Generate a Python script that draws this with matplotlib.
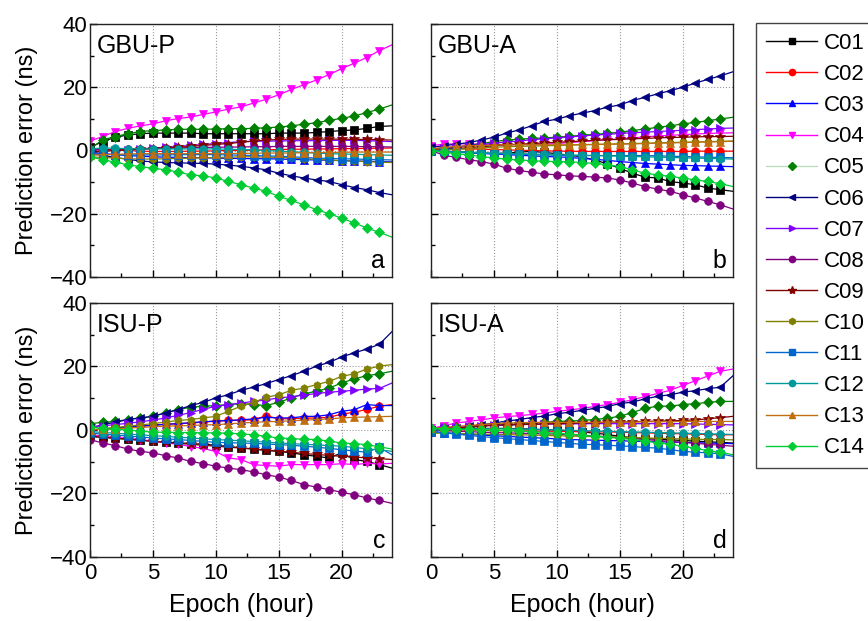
import matplotlib
matplotlib.use("Agg")
import matplotlib.pyplot as plt
from matplotlib.ticker import MultipleLocator
from matplotlib.lines import Line2D

plt.rcParams['font.family'] = ['Liberation Sans', 'DejaVu Sans']

hours = list(range(25))
names = ['C01', 'C02', 'C03', 'C04', 'C05', 'C06', 'C07', 'C08', 'C09', 'C10', 'C11', 'C12', 'C13', 'C14']
colors = ['#000000', '#FF0000', '#0000FF', '#FF00FF', '#008000', '#000080', '#8000FF',
          '#800080', '#800000', '#808000', '#0066CC', '#009999', '#BF6F10', '#00CC33']
legend_line_colors = ['#000000', '#FF0000', '#0000FF', '#FF00FF', '#C0DCC0', '#000080', '#8000FF',
                      '#800080', '#800000', '#808000', '#0066CC', '#009999', '#BF6F10', '#00CC33']
markers = ['s', 'o', '^', 'v', 'D', '<', '>', 'o', '*', 'h', 's', 'o', '^', 'D']
panel_titles = ['GBU-P', 'GBU-A', 'ISU-P', 'ISU-A']
panel_letters = ['a', 'b', 'c', 'd']

gbu_p = {
    'C01': [1.0, 2.8, 4.2, 4.9, 5.3, 5.5, 5.5, 5.5, 5.5, 5.3, 5.3, 5.3, 5.3, 5.3, 5.3, 5.5, 5.5, 5.5, 5.7, 6.0, 6.3, 6.5, 7.0, 7.6, 7.8],
    'C02': [0.5, 0.3, 0.2, 0.0, -0.2, -0.3, -0.3, -0.3, -0.2, -0.2, -0.1, 0.0, 0.0, 0.1, 0.2, 0.3, 0.4, 0.4, 0.5, 0.5, 0.6, 0.6, 0.7, 0.7, 0.8],
    'C03': [-0.5, -1.0, -1.3, -1.6, -1.8, -2.0, -2.1, -2.2, -2.3, -2.3, -2.4, -2.5, -2.5, -2.6, -2.6, -2.7, -2.8, -2.9, -3.0, -3.1, -3.2, -3.3, -3.4, -3.5, -3.6],
    'C04': [3.0, 4.4, 6.0, 7.0, 7.8, 8.4, 9.4, 10.1, 10.6, 11.4, 12.2, 13.1, 13.8, 15.0, 16.2, 17.6, 19.3, 20.8, 22.3, 24.0, 25.9, 27.6, 29.4, 31.6, 33.4],
    'C05': [0.5, 3.4, 4.4, 5.3, 6.0, 6.3, 6.5, 6.7, 6.7, 6.7, 6.8, 6.9, 6.9, 7.0, 7.2, 7.4, 7.8, 8.3, 8.8, 9.5, 10.2, 10.9, 12.0, 13.1, 14.4],
    'C06': [-1.0, -1.5, -2.2, -2.8, -3.3, -3.6, -3.8, -3.9, -4.0, -4.1, -4.3, -4.6, -5.0, -5.5, -6.1, -7.2, -8.0, -8.7, -9.3, -9.8, -10.8, -11.7, -12.4, -13.3, -14.0],
    'C07': [0.5, 0.3, 0.2, 0.3, 0.5, 0.8, 1.0, 1.3, 1.6, 1.9, 2.2, 2.5, 2.8, 2.9, 3.0, 3.0, 3.1, 3.1, 3.1, 3.2, 3.2, 3.2, 3.1, 3.0, 2.8],
    'C08': [0.0, 0.2, 0.3, 0.4, 0.5, 0.6, 0.7, 0.8, 0.9, 1.0, 1.0, 1.1, 1.1, 1.2, 1.2, 1.3, 1.3, 1.3, 1.3, 1.3, 1.3, 1.3, 1.2, 1.2, 1.1],
    'C09': [-0.5, -0.3, 0.0, 0.2, 0.4, 0.6, 0.8, 1.0, 1.3, 1.6, 1.9, 2.2, 2.6, 3.0, 3.3, 3.5, 3.6, 3.6, 3.6, 3.6, 3.6, 3.5, 3.5, 3.4, 3.3],
    'C10': [-2.0, -2.2, -2.4, -2.6, -2.7, -2.7, -2.6, -2.5, -2.4, -2.3, -2.2, -2.1, -2.0, -2.0, -2.1, -2.2, -2.4, -2.6, -2.8, -3.0, -3.2, -3.4, -3.5, -3.7, -3.8],
    'C11': [-1.0, -1.2, -1.3, -1.4, -1.4, -1.4, -1.4, -1.3, -1.3, -1.3, -1.3, -1.4, -1.5, -1.6, -1.7, -1.8, -2.0, -2.2, -2.4, -2.5, -2.6, -2.7, -2.8, -2.9, -3.0],
    'C12': [0.5, 0.8, 0.7, 0.6, 0.5, 0.5, 0.5, 0.5, 0.5, 0.5, 0.5, 0.4, 0.3, 0.2, 0.0, -0.2, -0.4, -0.6, -0.8, -1.0, -1.1, -1.2, -1.3, -1.4, -1.5],
    'C13': [-1.5, -1.3, -1.2, -1.1, -1.0, -1.0, -1.0, -1.0, -1.0, -1.0, -1.0, -1.0, -0.9, -0.9, -0.8, -0.8, -0.8, -0.7, -0.7, -0.6, -0.6, -0.5, -0.5, -0.5, -0.5],
    'C14': [-2.0, -2.9, -3.7, -4.5, -5.1, -5.6, -6.1, -6.8, -7.7, -8.0, -8.7, -9.8, -10.8, -11.9, -12.9, -14.5, -15.8, -17.2, -18.7, -20.0, -21.4, -22.9, -24.5, -25.9, -27.4],
}

gbu_a = {
    'C01': [0.0, -0.2, -0.4, -0.6, -0.8, -1.0, -0.8, -0.5, -0.3, -0.6, -1.0, -1.5, -2.0, -3.0, -4.2, -5.6, -7.2, -8.4, -8.7, -9.8, -10.3, -10.8, -11.9, -12.4, -12.9],
    'C02': [0.5, 0.6, 0.6, 0.5, 0.4, 0.3, 0.2, 0.1, 0.0, -0.1, -0.2, -0.2, -0.3, -0.3, -0.3, -0.3, -0.3, -0.3, -0.3, -0.3, -0.3, -0.2, -0.2, -0.2, -0.2],
    'C03': [0.0, -0.3, -0.5, -0.7, -0.9, -1.1, -1.3, -1.5, -1.7, -1.9, -2.0, -2.2, -2.5, -2.8, -3.1, -3.5, -3.8, -4.1, -4.3, -4.5, -4.7, -4.8, -4.9, -5.0, -5.1],
    'C04': [1.5, 2.0, 2.1, 2.1, 2.0, 1.9, 1.8, 1.8, 1.9, 2.0, 2.2, 2.5, 2.8, 3.1, 3.4, 3.7, 4.0, 4.3, 4.6, 4.8, 5.0, 5.2, 5.4, 5.5, 5.6],
    'C05': [0.0, 0.5, 1.0, 1.6, 2.2, 2.8, 3.3, 3.6, 3.8, 4.0, 4.2, 4.5, 4.8, 5.1, 5.4, 5.8, 6.3, 6.8, 7.3, 7.8, 8.4, 8.9, 9.4, 10.0, 10.5],
    'C06': [1.0, 1.5, 2.0, 2.5, 3.3, 4.2, 5.5, 6.5, 7.8, 9.2, 9.9, 11.0, 11.8, 12.6, 13.7, 14.4, 15.8, 16.8, 17.9, 18.9, 20.0, 21.3, 22.5, 23.6, 24.9],
    'C07': [0.5, 0.8, 1.1, 1.5, 1.9, 2.3, 2.7, 3.0, 3.4, 3.7, 4.0, 4.3, 4.6, 4.9, 5.1, 5.4, 5.6, 5.8, 6.0, 6.2, 6.4, 6.6, 6.8, 7.0, 7.1],
    'C08': [0.0, -1.5, -2.2, -2.9, -3.5, -4.3, -5.6, -6.3, -6.9, -7.4, -7.7, -8.0, -8.2, -8.4, -8.7, -9.3, -10.3, -11.4, -12.2, -12.9, -14.0, -15.0, -16.1, -17.2, -18.5],
    'C09': [0.0, 0.3, 0.6, 0.9, 1.2, 1.5, 1.8, 2.0, 2.2, 2.4, 2.6, 2.8, 3.0, 3.2, 3.4, 3.5, 3.7, 3.8, 4.0, 4.1, 4.2, 4.3, 4.4, 4.4, 4.5],
    'C10': [0.0, 0.2, 0.4, 0.6, 0.8, 1.0, 1.2, 1.3, 1.4, 1.5, 1.6, 1.7, 1.8, 1.9, 2.0, 2.1, 2.2, 2.3, 2.4, 2.5, 2.6, 2.7, 2.8, 2.9, 3.0],
    'C11': [0.0, -0.3, -0.5, -0.7, -0.9, -1.0, -1.1, -1.2, -1.3, -1.4, -1.5, -1.6, -1.6, -1.6, -1.6, -1.6, -1.6, -1.6, -1.7, -1.8, -1.9, -2.0, -2.1, -2.2, -2.3],
    'C12': [0.0, -0.2, -0.4, -0.5, -0.7, -0.8, -0.9, -1.0, -1.1, -1.2, -1.3, -1.4, -1.5, -1.6, -1.7, -1.8, -1.9, -2.0, -2.1, -2.2, -2.3, -2.4, -2.5, -2.6, -2.7],
    'C13': [0.5, 1.0, 1.3, 1.5, 1.6, 1.7, 1.8, 1.8, 1.8, 1.8, 1.8, 1.8, 1.9, 1.9, 2.0, 2.0, 2.1, 2.2, 2.3, 2.4, 2.5, 2.6, 2.7, 2.8, 2.9],
    'C14': [0.0, -0.6, -1.0, -1.4, -1.9, -2.4, -2.7, -3.0, -3.2, -3.4, -3.5, -3.6, -3.8, -4.1, -4.5, -5.1, -6.1, -7.2, -7.7, -8.2, -8.7, -9.3, -9.8, -10.5, -11.4],
}

isu_p = {
    'C01': [-2.0, -2.3, -2.6, -2.9, -3.2, -3.5, -3.8, -4.0, -4.3, -4.5, -4.8, -5.2, -5.6, -6.0, -6.4, -6.7, -7.2, -7.8, -8.3, -8.8, -7.2, -9.3, -9.9, -10.9, -12.0],
    'C02': [0.0, 0.3, 0.6, 0.9, 1.2, 1.5, 1.8, 2.0, 2.2, 2.5, 2.8, 3.0, 3.1, 3.2, 4.5, 3.5, 3.6, 3.7, 3.8, 4.0, 5.0, 5.6, 6.5, 7.5, 8.0],
    'C03': [0.0, 0.3, 0.6, 0.9, 1.2, 1.5, 1.8, 2.0, 2.3, 2.6, 2.8, 3.0, 3.2, 3.5, 4.0, 3.8, 3.8, 4.3, 4.3, 4.8, 5.9, 6.4, 8.0, 7.7, 7.7],
    'C04': [-1.5, -2.0, -2.3, -2.6, -3.0, -3.5, -4.0, -4.5, -5.2, -5.8, -6.8, -8.8, -9.3, -10.9, -11.2, -11.4, -10.9, -10.9, -10.9, -10.9, -10.6, -10.9, -10.5, -10.7, -10.5],
    'C05': [2.0, 2.4, 2.7, 3.3, 3.8, 4.3, 5.4, 6.4, 7.2, 7.5, 7.7, 8.0, 8.3, 8.0, 7.7, 8.7, 10.1, 11.4, 12.2, 13.2, 14.8, 16.1, 17.1, 17.7, 18.5],
    'C06': [0.5, 1.7, 2.4, 3.3, 3.8, 4.3, 5.4, 6.4, 7.7, 8.7, 10.1, 11.1, 12.5, 13.5, 14.6, 15.9, 17.1, 18.5, 20.1, 21.3, 23.0, 24.3, 25.5, 27.0, 31.0],
    'C07': [1.0, 1.3, 1.7, 2.1, 2.6, 3.1, 3.8, 4.6, 5.5, 6.5, 7.5, 8.0, 8.5, 9.0, 9.5, 10.1, 10.5, 11.0, 11.5, 11.9, 12.2, 12.5, 12.9, 13.1, 14.8],
    'C08': [-3.0, -4.1, -4.9, -6.0, -6.7, -7.2, -8.1, -8.8, -9.9, -10.6, -11.4, -12.0, -12.5, -13.2, -14.1, -14.8, -15.9, -17.2, -18.0, -18.8, -19.6, -20.4, -21.4, -22.2, -23.1],
    'C09': [-2.0, -2.3, -2.6, -2.9, -3.2, -3.6, -3.9, -4.2, -4.5, -4.8, -5.1, -5.4, -5.7, -6.0, -6.4, -6.7, -7.0, -7.4, -7.7, -8.0, -8.3, -8.5, -8.8, -9.0, -9.3],
    'C10': [0.0, 0.4, 0.8, 1.2, 1.6, 2.0, 2.5, 3.0, 3.3, 3.8, 4.3, 5.9, 7.5, 8.7, 10.3, 11.1, 12.5, 13.2, 14.3, 15.3, 16.9, 17.7, 19.2, 20.1, 20.6],
    'C11': [-1.0, -1.3, -1.6, -1.9, -2.2, -2.5, -2.8, -3.0, -3.3, -3.6, -3.9, -4.0, -4.1, -4.2, -4.4, -4.6, -4.8, -5.1, -5.4, -5.8, -6.2, -6.6, -7.0, -5.5, -7.8],
    'C12': [-0.5, -0.8, -1.0, -1.3, -1.5, -1.8, -2.0, -2.3, -2.5, -2.8, -3.0, -3.2, -3.4, -3.6, -3.8, -4.1, -4.3, -4.5, -4.7, -4.9, -5.1, -5.5, -5.9, -6.3, -6.7],
    'C13': [0.0, 0.2, 0.4, 0.6, 0.8, 1.0, 1.2, 1.3, 1.4, 1.6, 1.7, 1.9, 2.2, 2.4, 2.6, 2.7, 2.9, 3.1, 3.3, 3.5, 3.8, 4.0, 4.1, 4.2, 4.3],
    'C14': [1.0, 0.5, 0.2, 0.0, -0.3, -0.7, -0.7, -0.8, -0.8, -0.9, -0.9, -1.0, -1.2, -1.5, -2.0, -2.5, -2.7, -2.9, -3.0, -3.5, -4.1, -4.3, -4.6, -5.3, -6.0],
}

isu_a = {
    'C01': [0.0, 0.3, 0.4, 0.5, 0.5, 0.5, 0.5, 0.4, 0.3, 0.1, 0.0, -0.3, -0.6, -1.0, -1.4, -2.0, -2.4, -2.7, -2.9, -3.1, -3.3, -3.5, -3.7, -3.9, -4.1],
    'C02': [0.0, 0.0, 0.0, 0.0, -0.1, -0.2, -0.2, -0.3, -0.3, -0.4, -0.4, -0.5, -0.5, -0.6, -0.6, -0.7, -0.8, -0.9, -1.0, -1.1, -1.2, -1.3, -1.4, -1.5, -1.5],
    'C03': [-0.5, -0.8, -1.1, -1.4, -1.6, -1.8, -2.0, -2.2, -2.4, -2.6, -2.8, -3.0, -3.1, -3.2, -3.3, -3.4, -3.5, -3.6, -3.7, -3.8, -3.9, -4.0, -4.1, -4.2, -4.3],
    'C04': [0.5, 1.3, 2.2, 2.7, 3.2, 3.8, 4.2, 4.5, 4.9, 5.3, 5.9, 6.3, 6.8, 7.4, 8.0, 8.7, 9.5, 10.5, 11.5, 12.5, 14.0, 15.5, 17.0, 18.5, 19.2],
    'C05': [0.5, 0.7, 0.9, 1.1, 1.3, 1.5, 1.7, 1.9, 2.2, 2.4, 2.7, 2.8, 3.0, 3.3, 3.7, 4.3, 5.5, 6.8, 7.5, 7.5, 8.0, 8.3, 8.7, 9.0, 9.0],
    'C06': [0.0, 0.3, 0.7, 1.2, 1.6, 2.2, 2.8, 3.3, 3.9, 4.4, 5.1, 5.6, 6.2, 6.8, 7.4, 8.3, 8.8, 9.8, 10.6, 11.1, 11.9, 12.4, 13.0, 13.5, 17.1],
    'C07': [0.5, 0.8, 1.0, 1.2, 1.4, 1.5, 1.6, 1.7, 1.8, 1.8, 1.9, 1.9, 2.0, 2.0, 2.0, 2.0, 2.0, 2.0, 2.0, 2.0, 2.0, 1.9, 1.8, 1.7, 1.6],
    'C08': [0.0, -0.2, -0.4, -0.5, -0.7, -0.8, -0.9, -1.0, -1.1, -1.2, -1.3, -1.5, -1.7, -1.9, -2.1, -2.4, -2.7, -3.0, -3.3, -3.6, -3.9, -4.2, -4.5, -4.8, -5.1],
    'C09': [0.0, 0.3, 0.6, 0.9, 1.2, 1.5, 1.6, 1.7, 1.8, 1.9, 2.0, 2.1, 2.2, 2.3, 2.4, 2.5, 2.6, 2.7, 2.8, 2.9, 3.0, 3.2, 3.5, 3.9, 4.3],
    'C10': [-1.0, -1.0, -1.1, -1.2, -1.3, -1.4, -1.5, -1.5, -1.6, -1.7, -1.8, -1.9, -2.0, -2.1, -2.2, -2.3, -2.4, -2.5, -2.6, -2.7, -2.8, -2.9, -3.0, -3.0, -3.1],
    'C11': [-0.5, -0.9, -1.3, -1.7, -2.1, -2.4, -2.7, -3.0, -3.3, -3.6, -3.9, -4.2, -4.5, -4.6, -4.8, -5.0, -5.2, -5.5, -5.7, -6.2, -6.7, -7.0, -7.2, -7.5, -8.3],
    'C12': [0.0, 0.1, 0.2, 0.3, 0.4, 0.4, 0.4, 0.3, 0.2, 0.1, 0.0, -0.1, -0.2, -0.3, -0.4, -0.5, -0.6, -0.7, -0.8, -0.9, -1.0, -1.1, -1.2, -1.3, -1.4],
    'C13': [0.5, 0.8, 1.1, 1.4, 1.7, 2.0, 2.2, 2.3, 2.4, 2.4, 2.4, 2.4, 2.4, 2.4, 2.5, 2.5, 2.5, 2.6, 2.6, 2.6, 2.7, 2.7, 2.7, 2.7, 2.7],
    'C14': [0.5, 0.4, 0.3, 0.2, 0.1, 0.0, -0.1, -0.3, -0.5, -0.8, -1.0, -1.3, -1.6, -2.0, -2.3, -2.6, -3.0, -3.5, -4.0, -4.5, -5.1, -5.8, -6.5, -7.0, -7.8],
}

panels = [gbu_p, gbu_a, isu_p, isu_a]

W, H = 868, 621
fig = plt.figure(figsize=(W / 100, H / 100), dpi=100)

rects = [
    (90, 24, 392, 277),
    (431, 24, 733, 277),
    (90, 303, 392, 557),
    (431, 303, 733, 557),
]

for i, (data, (x0, y0, x1, y1)) in enumerate(zip(panels, rects)):
    ax = fig.add_axes([x0 / W, 1 - y1 / H, (x1 - x0) / W, (y1 - y0) / H])
    for name, col, mk in zip(names, colors, markers):
        ms = 7.5 if mk == '*' else 5.5
        ax.plot(hours, data[name], color=col, marker=mk, markersize=ms, lw=0.9,
                markevery=slice(0, 24), label=name, markeredgewidth=0.5)
    ax.set_xlim(0, 24)
    ax.set_ylim(-40, 40)
    ax.xaxis.set_major_locator(MultipleLocator(5))
    ax.xaxis.set_minor_locator(MultipleLocator(2.5))
    ax.yaxis.set_major_locator(MultipleLocator(20))
    ax.yaxis.set_minor_locator(MultipleLocator(10))
    ax.tick_params(which='both', direction='in', top=False, right=False, labelsize=16)
    ax.tick_params(axis='y', which='both', pad=2)
    ax.tick_params(axis='x', which='both', pad=4)
    ax.tick_params(which='major', length=5, width=1)
    ax.tick_params(which='minor', length=3, width=1)
    ax.grid(True, which='major', linestyle=':', color='#999999', lw=0.8)
    for sp in ax.spines.values():
        sp.set_linewidth(1.0)
        sp.set_color('#222222')
    if i % 2 == 1:
        ax.set_yticklabels([])
    else:
        ax.set_ylabel('Prediction error (ns)', fontsize=17, labelpad=8)
    if i < 2:
        ax.set_xticklabels([])
    else:
        ax.set_xlabel('Epoch (hour)', fontsize=18, labelpad=7)
    ax.text(0.022, 0.962, panel_titles[i], transform=ax.transAxes, fontsize=18,
            ha='left', va='top')
    ax.text(0.978, 0.035, panel_letters[i], transform=ax.transAxes, fontsize=18,
            ha='right', va='baseline')

handles = [Line2D([], [], color=lc, marker=mk, markerfacecolor=c, markeredgecolor=c,
                  markersize=(6 if mk == '*' else 4.5), lw=1.0)
           for lc, c, mk in zip(legend_line_colors, colors, markers)]

leg = fig.legend(handles=handles, labels=names, loc='upper left',
                 bbox_to_anchor=(756 / W, 1 - 23 / H), borderaxespad=0,
                 fontsize=16, frameon=True, fancybox=False, framealpha=1,
                 edgecolor='#444444', handlelength=2.3, handletextpad=0.3,
                 labelspacing=0.455, borderpad=0.45)
leg.get_frame().set_linewidth(1.0)

fig.savefig('out.png', dpi=100)
